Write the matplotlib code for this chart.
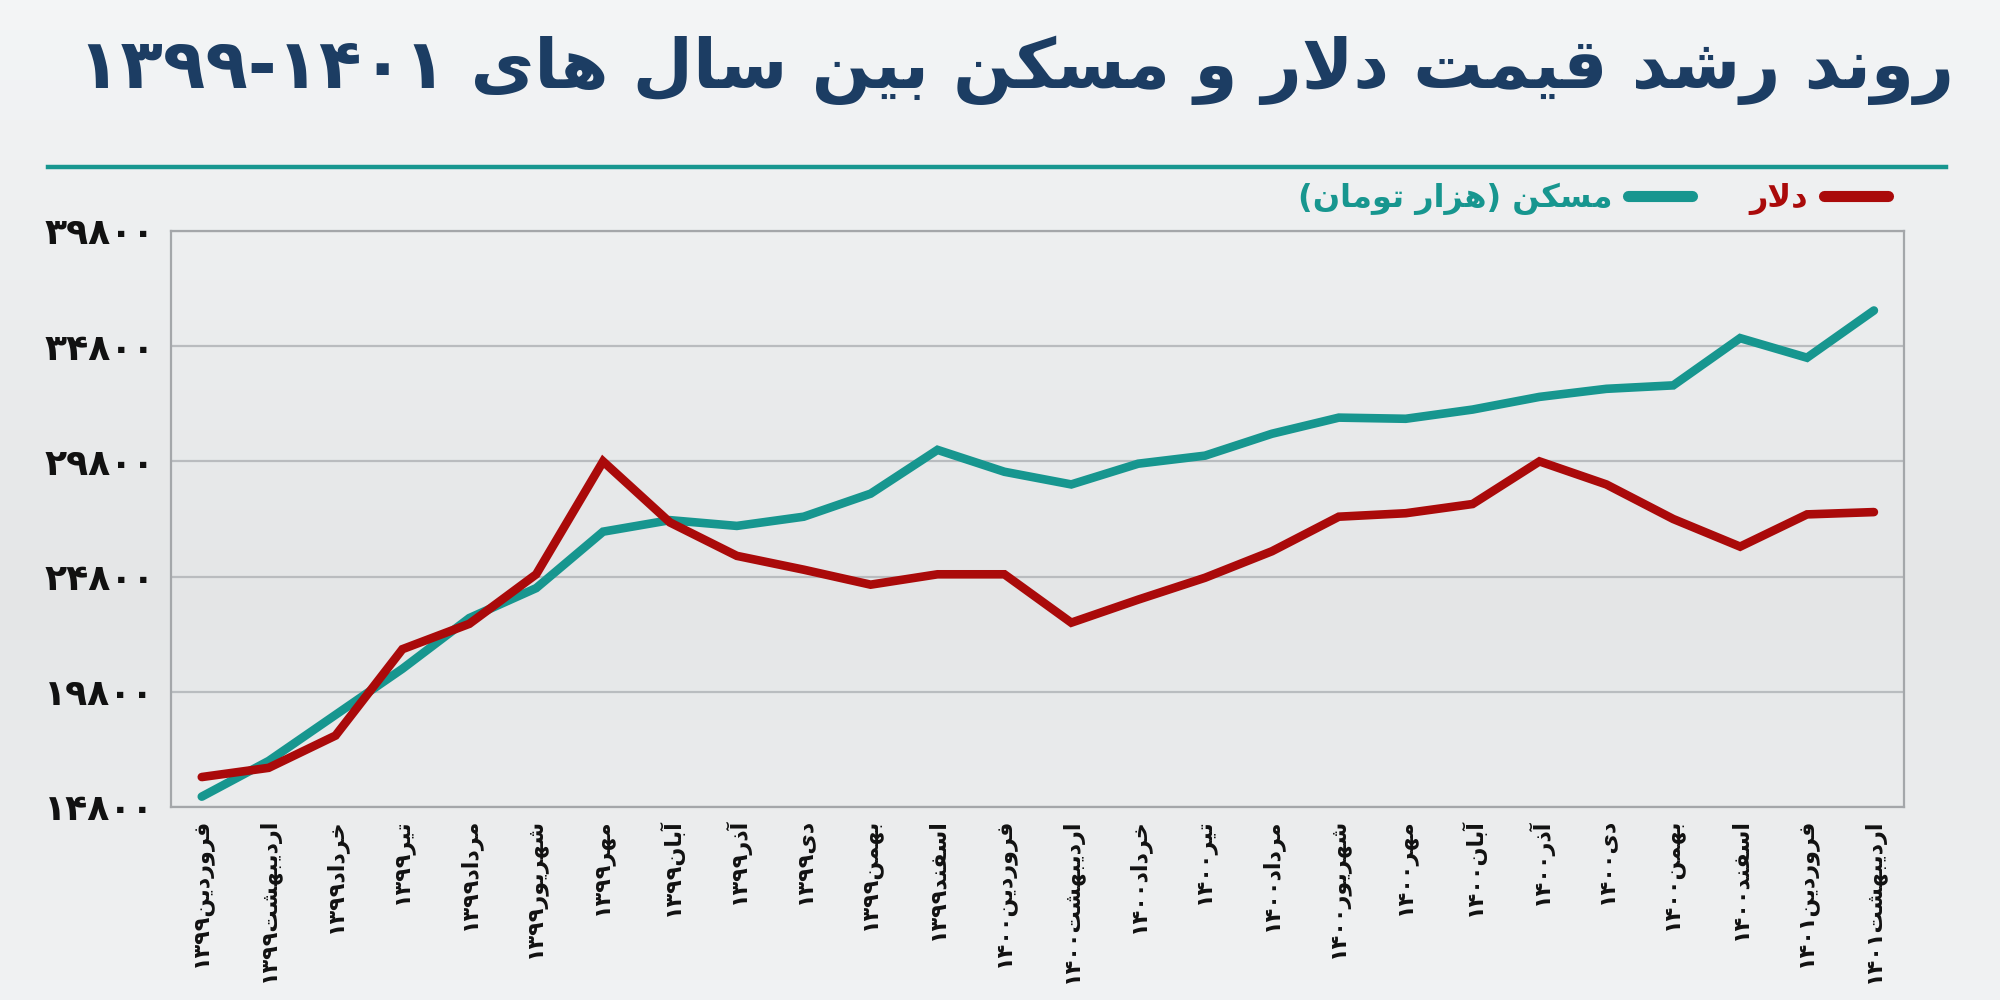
import re
import matplotlib
matplotlib.use("Agg")
import matplotlib.pyplot as plt
import numpy as np

# ---- data ----
month_names = ["فروردین", "اردیبهشت", "خرداد", "تیر", "مرداد", "شهریور",
               "مهر", "آبان", "آذر", "دی", "بهمن", "اسفند"]
period_years = ["۱۳۹۹"] * 12 + ["۱۴۰۰"] * 12 + ["۱۴۰۱"] * 2
period_months = month_names + month_names + month_names[:2]

dollar = [16100, 16500, 17900, 21650, 22750, 24900, 29800, 27150, 25700,
          25100, 24450, 24900, 24900, 22800, 23800, 24750, 25900, 27400,
          27550, 27950, 29800, 28800, 27300, 26100, 27500, 27600]
housing = [15250, 16800, 18800, 20800, 23000, 24300, 26750, 27250, 27000,
           27400, 28400, 30300, 29350, 28800, 29700, 30050, 31000, 31700,
           31650, 32050, 32600, 32950, 33100, 35150, 34300, 36350]

y_ticks = [14800, 19800, 24800, 29800, 34800, 39800]

title = "روند رشد قیمت دلار و مسکن بین سال های ۱۳۹۹-۱۴۰۱"
dollar_label = "دلار"
housing_label = "مسکن (هزار تومان)"

RED = "#aa0a0a"
TEAL = "#17968f"
NAVY = "#1c3d63"

# ---- minimal Persian shaping + RTL ordering (no external libs) ----
FORMS = {
    # isolated, final, initial, medial
    "ا": ("\uFE8D", "\uFE8E", None, None),
    "آ": ("\uFE81", "\uFE82", None, None),
    "ب": ("\uFE8F", "\uFE90", "\uFE91", "\uFE92"),
    "پ": ("\uFB56", "\uFB57", "\uFB58", "\uFB59"),
    "ت": ("\uFE95", "\uFE96", "\uFE97", "\uFE98"),
    "خ": ("\uFEA5", "\uFEA6", "\uFEA7", "\uFEA8"),
    "د": ("\uFEA9", "\uFEAA", None, None),
    "ذ": ("\uFEAB", "\uFEAC", None, None),
    "ر": ("\uFEAD", "\uFEAE", None, None),
    "ز": ("\uFEAF", "\uFEB0", None, None),
    "س": ("\uFEB1", "\uFEB2", "\uFEB3", "\uFEB4"),
    "ش": ("\uFEB5", "\uFEB6", "\uFEB7", "\uFEB8"),
    "ف": ("\uFED1", "\uFED2", "\uFED3", "\uFED4"),
    "ق": ("\uFED5", "\uFED6", "\uFED7", "\uFED8"),
    "ک": ("\uFB8E", "\uFB8F", "\uFB90", "\uFB91"),
    "ل": ("\uFEDD", "\uFEDE", "\uFEDF", "\uFEE0"),
    "م": ("\uFEE1", "\uFEE2", "\uFEE3", "\uFEE4"),
    "ن": ("\uFEE5", "\uFEE6", "\uFEE7", "\uFEE8"),
    "و": ("\uFEED", "\uFEEE", None, None),
    "ه": ("\uFEE9", "\uFEEA", "\uFEEB", "\uFEEC"),
    "ی": ("\uFBFC", "\uFBFD", "\uFBFE", "\uFBFF"),
}
LAM_ALEF = {"ا": ("\uFEFB", "\uFEFC"), "آ": ("\uFEF5", "\uFEF6")}


def joins_forward(ch):
    return ch in FORMS and FORMS[ch][2] is not None


def shape(s):
    out = []
    i = 0
    while i < len(s):
        ch = s[i]
        prev = s[i - 1] if i > 0 else ""
        nxt = s[i + 1] if i + 1 < len(s) else ""
        if ch not in FORMS:
            out.append(ch)
            i += 1
            continue
        pj = joins_forward(prev)
        if ch == "ل" and nxt in LAM_ALEF:
            out.append(LAM_ALEF[nxt][1] if pj else LAM_ALEF[nxt][0])
            i += 2
            continue
        nj = joins_forward(ch) and nxt in FORMS
        iso, fin, ini, med = FORMS[ch]
        if pj and nj:
            out.append(med)
        elif pj:
            out.append(fin)
        elif nj:
            out.append(ini)
        else:
            out.append(iso)
        i += 1
    return "".join(out)


MIRROR = {"(": ")", ")": "("}


def fa(s):
    s = shape(s)
    parts = re.split(r"([0-9۰-۹]+(?:[-.][0-9۰-۹]+)*)", s)
    vis = []
    for k, p in enumerate(parts):
        if k % 2 == 1:
            vis.append(p)
        else:
            vis.append("".join(MIRROR.get(c, c) for c in reversed(p)))
    return "".join(reversed(vis))


def fa_digits(n):
    return str(n).translate(str.maketrans("0123456789", "۰۱۲۳۴۵۶۷۸۹"))


plt.rcParams["font.family"] = ["DejaVu Sans"]

fig = plt.figure(figsize=(20, 10), dpi=100)

# soft grey background gradient
bg = fig.add_axes([0, 0, 1, 1], zorder=-10)
grad = np.concatenate([np.linspace(0.965, 0.905, 60), np.linspace(0.905, 0.955, 40)])
rgb = np.stack([grad - 0.01, grad - 0.004, grad], axis=-1)
bg.imshow(rgb[:, None, :].repeat(2, axis=1), aspect="auto", extent=[0, 1, 0, 1])
bg.axis("off")

ax = fig.add_axes([0.0855, 0.193, 0.8665, 0.576])
ax.patch.set_alpha(0)

x = np.arange(len(dollar))
l_house, = ax.plot(x, housing, color=TEAL, lw=6.2, solid_capstyle="round",
                   solid_joinstyle="miter", zorder=3)
l_dollar, = ax.plot(x, dollar, color=RED, lw=6.2, solid_capstyle="round",
                    solid_joinstyle="miter", zorder=4)

ax.set_xlim(-0.46, len(dollar) - 1 + 0.45)
ax.set_ylim(y_ticks[0], y_ticks[-1])
ax.set_yticks(y_ticks)
ax.set_yticklabels([fa_digits(v) for v in y_ticks], fontsize=26,
                   fontweight="bold", color="#111111")
ax.set_xticks(x)
ax.set_xticklabels([fa(m + y) for m, y in zip(period_months, period_years)],
                   rotation=90, fontsize=16, fontweight="bold", color="#111111",
                   va="top", ha="center")
ax.tick_params(axis="both", length=0)
ax.tick_params(axis="x", pad=8)
ax.tick_params(axis="y", pad=12)
ax.grid(axis="y", color="#b9bcbf", lw=1.6)
ax.set_axisbelow(True)
for sp in ax.spines.values():
    sp.set_color("#a4a7aa")
    sp.set_linewidth(1.6)

# title and rule
fig.text(0.508, 0.93, fa(title), ha="center", va="center", fontsize=50,
         fontweight="bold", color=NAVY)
fig.add_artist(plt.Line2D([0.024, 0.973], [0.833, 0.833], color=TEAL, lw=3.2))

# legend (right-to-left: marker after label)
leg = ax.legend([l_house, l_dollar], [fa(housing_label), fa(dollar_label)],
                ncol=2, markerfirst=False, frameon=False, loc="lower right",
                bbox_to_anchor=(1.0, 1.0), borderaxespad=0.1, handlelength=2.0,
                handletextpad=0.5, columnspacing=1.8,
                prop={"size": 23, "weight": "bold"})
for txt, col in zip(leg.get_texts(), [TEAL, RED]):
    txt.set_color(col)
for h in leg.legend_handles:
    h.set_linewidth(8)

fig.savefig("out.png", dpi=100)
